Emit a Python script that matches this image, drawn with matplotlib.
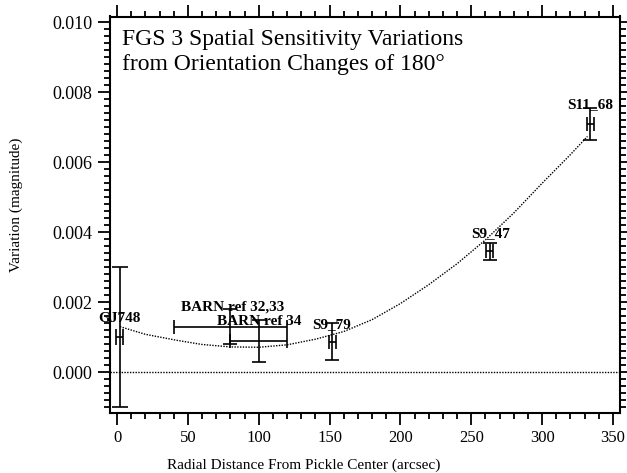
import matplotlib
matplotlib.use("Agg")
import matplotlib.pyplot as plt
from matplotlib.ticker import MultipleLocator

plt.rcParams['font.family'] = ['Liberation Serif', 'DejaVu Serif']

# measured points
names = ["GJ748", "BARN ref 32,33", "BARN ref 34", "S9_79", "S9_47", "S11_68"]
dist = [2, 80, 100, 152, 263, 334]
variation = [0.0010, 0.0013, 0.0009, 0.00087, 0.00345, 0.0071]
dist_err = [2.5, 40, 20, 2.5, 2.5, 2.5]
var_err = [0.0020, 0.0005, 0.0006, 0.00053, 0.00024, 0.00046]

# label anchors (centre x, baseline y)
label_x = [1.5, 81.6, 100.6, 151.3, 263.4, 334]
label_y = [0.00143, 0.00176, 0.00135, 0.00125, 0.00385, 0.00756]

# fitted curve
fit_x = [2, 20, 42, 60, 80, 100, 120, 140, 160, 180, 200, 220, 240, 260, 280, 300, 320, 332]
fit_y = [0.00130, 0.00108, 0.00091, 0.00079, 0.00072, 0.00071, 0.00078, 0.00094, 0.00116,
         0.00150, 0.00196, 0.00250, 0.00310, 0.00378, 0.00455, 0.00540, 0.00622, 0.00674]

fig = plt.figure(figsize=(6.27, 4.73), dpi=100)
ax = fig.add_axes([110/627, 60/473, 510/627, 396.5/473])

ax.axhline(0, color='black', lw=1, linestyle=(0, (1, 1)))
ax.plot(fit_x, fit_y, color='black', lw=1, linestyle=(0, (1, 1)))

for i in range(len(dist)):
    cs = 6 if i == 0 else 5
    ax.errorbar(dist[i], variation[i], xerr=dist_err[i], yerr=var_err[i],
                fmt='none', ecolor='black', elinewidth=1.2, capsize=cs, capthick=1.2)
    ax.text(label_x[i], label_y[i], names[i], ha='center', va='baseline',
            fontsize=11, fontweight='bold')

ax.text(0.023, 0.929, "FGS 3 Spatial Sensitivity Variations", transform=ax.transAxes,
        fontsize=17, va='baseline')
ax.text(0.023, 0.866, "from Orientation Changes of 180°", transform=ax.transAxes,
        fontsize=17, va='baseline')

ax.set_xlim(-5, 355)
ax.set_ylim(-0.00117, 0.01017)
ax.xaxis.set_major_locator(MultipleLocator(50))
ax.xaxis.set_minor_locator(MultipleLocator(10))
ax.yaxis.set_major_locator(MultipleLocator(0.002))
ax.yaxis.set_minor_locator(MultipleLocator(0.0002))
ax.yaxis.set_major_formatter(plt.FormatStrFormatter('%.3f'))

for s in ax.spines.values():
    s.set_linewidth(1.5)
ax.tick_params(which='both', direction='out', top=True, right=True, width=1.3)
ax.tick_params(which='major', length=8.5, pad=4)
ax.tick_params(which='minor', length=4.5)
ax.tick_params(axis='x', labelsize=12)
ax.tick_params(axis='y', labelsize=13)

fig.text(303.5/627, 8/473, "Radial Distance From Pickle Center (arcsec)", ha='center', va='center', fontsize=11)
fig.text(16/627, 268/473, "Variation (magnitude)", ha='center', va='center', rotation=90, fontsize=11)

fig.savefig("out.png", dpi=100)
